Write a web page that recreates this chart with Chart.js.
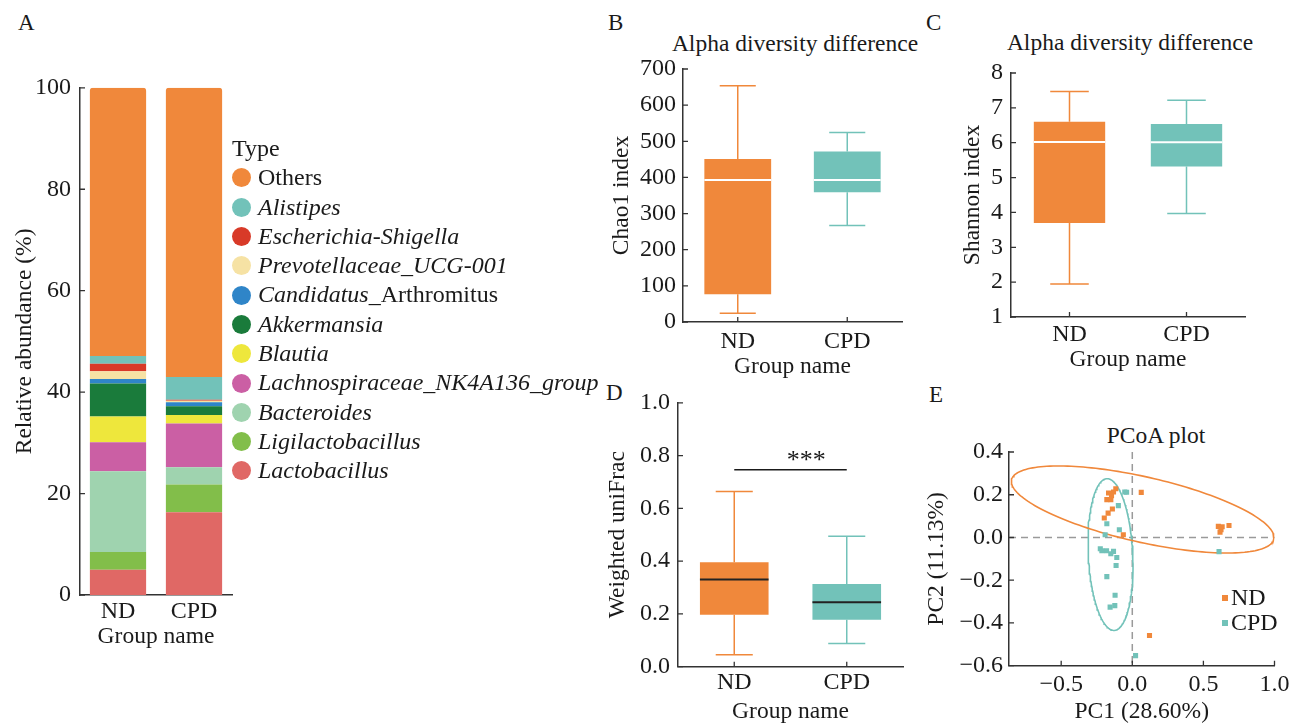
<!DOCTYPE html>
<html>
<head>
<meta charset="utf-8">
<script src="https://cdn.jsdelivr.net/npm/chart.js@4.4.1/dist/chart.umd.min.js"></script>
<style>
body{margin:0;background:#fff;overflow:hidden;}
#wrap{position:relative;width:1305px;height:725px;font-family:"Liberation Serif","Times New Roman",serif;color:#1a1a1a;}
canvas{position:absolute;}
.pl{position:absolute;font-size:23px;line-height:1.2;}
.ttl{position:absolute;font-size:23.5px;line-height:1.2;text-align:center;white-space:nowrap;}
#legA{position:absolute;left:232px;top:134px;font-size:24px;}
#legA div{height:29.3px;line-height:29.3px;white-space:nowrap;display:flex;align-items:center;}
#legA span.dot{display:inline-block;width:19px;height:19px;border-radius:50%;margin-right:7px;}
#legE{position:absolute;left:1222px;top:585px;font-size:24px;}
#legE div{height:25px;line-height:25px;display:flex;align-items:center;}
#legE span.sq{display:inline-block;width:6px;height:6px;margin-right:3px;}
</style>
</head>
<body>
<div id="wrap">
  <div class="pl" style="left:18px;top:9px">A</div>
  <div class="pl" style="left:608px;top:9px">B</div>
  <div class="pl" style="left:926px;top:9px">C</div>
  <div class="pl" style="left:606px;top:379px">D</div>
  <div class="pl" style="left:929px;top:381px">E</div>
  <div class="ttl" style="left:645px;top:29px;width:300px">Alpha diversity difference</div>
  <div class="ttl" style="left:980px;top:28px;width:300px">Alpha diversity difference</div>
  <div class="ttl" style="left:1056px;top:421px;width:200px">PCoA plot</div>
  <canvas id="cA" width="230" height="595" style="left:6px;top:65px"></canvas>
  <div id="legA"></div>
  <canvas id="cB" width="305" height="360" style="left:605px;top:25px"></canvas>
  <canvas id="cC" width="304" height="355" style="left:956px;top:25px"></canvas>
  <canvas id="cD" width="309" height="345" style="left:601px;top:381px"></canvas>
  <canvas id="cE" width="375" height="316" style="left:920px;top:410px"></canvas>
  <div id="legE"></div>
</div>
<script>
// ---- data ----
var groups = ['ND', 'CPD'];

// stacked from bottom to top
var genera = ['Lactobacillus', 'Ligilactobacillus', 'Bacteroides', 'Lachnospiraceae_NK4A136_group',
  'Blautia', 'Akkermansia', 'Candidatus_Arthromitus', 'Prevotellaceae_UCG-001',
  'Escherichia-Shigella', 'Alistipes', 'Others'];
var abundND  = [5.0, 3.5, 15.9, 5.7, 5.1, 6.5, 0.9, 1.5, 1.5, 1.5, 52.9];
var abundCPD = [16.3, 5.5, 3.4, 8.6, 1.7, 1.7, 0.8, 0.3, 0.2, 4.5, 57.0];
var genusColors = ['#E06865', '#82BE4A', '#9FD3AF', '#CB5FA4', '#EEE73C', '#1A7B3B',
  '#2F85C8', '#F6E2A4', '#D83A28', '#72C2B9', '#F0883B'];
var abundTicks = [0, 20, 40, 60, 80, 100];

// box stats: min, q1, median, q3, max
var chaoND  = [24, 77, 393, 451, 654];
var chaoCPD = [267, 359, 393, 472, 524];
var chaoTicks = [0, 100, 200, 300, 400, 500, 600, 700];

var shannonND  = [1.95, 3.70, 6.02, 6.60, 7.47];
var shannonCPD = [3.97, 5.32, 6.01, 6.54, 7.22];
var shannonTicks = [1, 2, 3, 4, 5, 6, 7, 8];

var unifracND  = [0.045, 0.197, 0.330, 0.396, 0.664];
var unifracCPD = [0.088, 0.178, 0.244, 0.313, 0.494];
var unifracTicks = [0, 0.2, 0.4, 0.6, 0.8, 1.0];
var sigY = 0.746;
var sigText = '***';

// PCoA points [PC1, PC2]
var pcoaND = [[-0.116, 0.228], [-0.132, 0.213], [-0.167, 0.208], [-0.146, 0.195], [-0.179, 0.177],
  [-0.151, 0.177], [-0.140, 0.133], [-0.170, 0.114], [-0.197, 0.091], [-0.063, 0.013],
  [0.063, 0.211], [0.121, -0.459], [0.605, 0.052], [0.624, 0.036], [0.617, 0.025],
  [0.632, 0.050], [0.680, 0.056]];
var pcoaCPD = [[-0.053, 0.213], [-0.040, 0.212], [-0.098, 0.149], [-0.179, 0.064], [-0.091, 0.036],
  [-0.191, 0.013], [-0.225, -0.053], [-0.214, -0.062], [-0.181, -0.062], [-0.151, -0.076],
  [-0.132, -0.065], [-0.109, -0.094], [-0.114, -0.131], [-0.179, -0.183], [-0.121, -0.270],
  [-0.123, -0.319], [-0.156, -0.326], [0.610, -0.066], [0.023, -0.553]];
// ellipse: centre x, centre y, then two conjugate half axes (x, y)
var ellND  = [0.073, 0.131, 0.922, -0.139, -0.050, -0.149];
var ellCPD = [-0.153, -0.080, -0.026, 0.355, 0.156, 0.005];
var pcoaXTicks = [-0.5, 0, 0.5, 1.0];
var pcoaYTicks = [-0.6, -0.4, -0.2, 0, 0.2, 0.4];

var ORANGE = '#F0883B', TEAL = '#72C2B9', AXIS = '#333';
var boxColors = [ORANGE, TEAL];
var TFONT = {size: 23.5, lineHeight: 1.17, weight: 'normal'};

Chart.defaults.font.family = '"Liberation Serif","Times New Roman",serif';
Chart.defaults.font.size = 24;
Chart.defaults.font.lineHeight = 1.15;
Chart.defaults.color = '#1a1a1a';
Chart.defaults.animation = false;
Chart.defaults.plugins.legend.display = false;
Chart.defaults.plugins.tooltip.enabled = false;

function fmt1(v) {
  var s = Math.abs(v) < 1e-9 ? '0.0' : Number(v).toFixed(1);
  return s.replace('-', '\u2212');
}
function setTicks(arr) {
  return function (s) { s.ticks = arr.map(function (v) { return {value: v}; }); };
}

// inward tick marks
function tickMarks(len, doX) {
  return {
    id: 'tickMarks',
    afterDraw: function (ch) {
      var c = ch.ctx, a = ch.chartArea, sy = ch.scales.y, sx = ch.scales.x;
      c.save();
      c.strokeStyle = AXIS; c.lineWidth = 1.3;
      c.beginPath();
      sy.ticks.forEach(function (t) {
        var p = sy.getPixelForValue(t.value);
        c.moveTo(a.left, p); c.lineTo(a.left + len, p);
      });
      if (doX) {
        sx.ticks.forEach(function (t, i) {
          var p = sx.getPixelForTick(i);
          c.moveTo(p, a.bottom); c.lineTo(p, a.bottom - len);
        });
      }
      c.stroke();
      c.restore();
    }
  };
}

// whiskers + median on top of floating bars
function boxPlugin(stats, medColor) {
  return {
    id: 'boxWhisk',
    afterDatasetsDraw: function (ch) {
      var meta = ch.getDatasetMeta(0), y = ch.scales.y, c = ch.ctx;
      stats.forEach(function (s, i) {
        var bar = meta.data[i], x = bar.x, w = bar.width, cw = w * 0.27;
        c.save();
        c.strokeStyle = boxColors[i]; c.lineWidth = 1.5;
        c.beginPath();
        c.moveTo(x, y.getPixelForValue(s[3])); c.lineTo(x, y.getPixelForValue(s[4]));
        c.moveTo(x, y.getPixelForValue(s[1])); c.lineTo(x, y.getPixelForValue(s[0]));
        c.moveTo(x - cw, y.getPixelForValue(s[4])); c.lineTo(x + cw, y.getPixelForValue(s[4]));
        c.moveTo(x - cw, y.getPixelForValue(s[0])); c.lineTo(x + cw, y.getPixelForValue(s[0]));
        c.stroke();
        c.strokeStyle = medColor; c.lineWidth = 2;
        c.beginPath();
        c.moveTo(x - w / 2, y.getPixelForValue(s[2])); c.lineTo(x + w / 2, y.getPixelForValue(s[2]));
        c.stroke();
        c.restore();
      });
    }
  };
}

// ---- A: stacked bars ----
var chartA = new Chart(document.getElementById('cA'), {
  type: 'bar',
  data: {
    labels: groups,
    datasets: genera.map(function (g, i) {
      return {
        label: g, data: [abundND[i], abundCPD[i]], backgroundColor: genusColors[i],
        barPercentage: 0.74, categoryPercentage: 1, borderWidth: 0,
        borderRadius: g === 'Others' ? 3 : 0
      };
    })
  },
  options: {
    responsive: false,
    layout: {padding: {top: 18, right: 4, left: 0, bottom: 0}},
    scales: {
      x: {
        stacked: true, grid: {display: false, drawTicks: false}, border: {color: AXIS, width: 1.5},
        ticks: {padding: 3},
        title: {display: true, text: 'Group name', font: TFONT, padding: {top: 0, bottom: 9}},
        afterFit: function (s) { s.height = 65; }
      },
      y: {
        stacked: true, min: 0, max: 100, grid: {display: false, drawTicks: false},
        border: {color: AXIS, width: 1.5},
        afterBuildTicks: setTicks(abundTicks), ticks: {padding: 9},
        title: {display: true, text: 'Relative abundance (%)', font: TFONT, padding: {top: 5, bottom: 0}},
        afterFit: function (s) { s.width = 74; }
      }
    }
  },
  plugins: [tickMarks(5, false)]
});

// legend for A, built from the chart's datasets (top of stack first)
(function () {
  var el = document.getElementById('legA');
  var html = '<div>Type</div>';
  chartA.data.datasets.slice().reverse().forEach(function (d) {
    var name = d.label, txt;
    if (name === 'Others') txt = name;
    else if (name.indexOf('Candidatus_') === 0) txt = '<i>Candidatus_</i>' + name.slice(11);
    else txt = '<i>' + name + '</i>';
    html += '<div><span class="dot" style="background:' + d.backgroundColor + '"></span>' + txt + '</div>';
  });
  el.innerHTML = html;
})();

// ---- B, C, D: box plots ----
function boxChart(id, nd, cpd, o) {
  var stats = [nd, cpd];
  var extra = o.extra ? [o.extra] : [];
  return new Chart(document.getElementById(id), {
    type: 'bar',
    data: {
      labels: groups,
      datasets: [{
        data: stats.map(function (s) { return [s[1], s[3]]; }),
        backgroundColor: boxColors, barPercentage: 0.61, categoryPercentage: 1, borderWidth: 0
      }]
    },
    options: {
      responsive: false,
      layout: {padding: {top: o.pt, right: o.pr, left: 0, bottom: 0}},
      scales: {
        x: {
          grid: {display: false, drawTicks: false}, border: {color: AXIS, width: 1.5},
          ticks: {padding: o.xpad},
          title: {display: true, text: 'Group name', font: TFONT, padding: {top: 0, bottom: o.pb}},
          afterFit: function (s) { s.height = o.xh; }
        },
        y: {
          min: o.ticks[0], max: o.ticks[o.ticks.length - 1],
          grid: {display: false, drawTicks: false}, border: {color: AXIS, width: 1.5},
          afterBuildTicks: setTicks(o.ticks),
          ticks: {padding: o.ypad, callback: o.fmt},
          title: {display: true, text: o.ytitle, font: TFONT, padding: {top: o.ytp, bottom: 0}},
          afterFit: function (s) { s.width = o.yw; }
        }
      }
    },
    plugins: [boxPlugin(stats, o.median), tickMarks(5, true)].concat(extra)
  });
}

boxChart('cB', chaoND, chaoCPD, {
  pt: 44, pr: 8, xh: 63, yw: 78,
  xpad: 6, pb: 4.5, ypad: 7, ytp: 3, ytitle: 'Chao1 index', ticks: chaoTicks,
  fmt: function (v) { return v; }, median: '#ffffff'
});

boxChart('cC', shannonND, shannonCPD, {
  pt: 48, pr: 15, xh: 63, yw: 55,
  xpad: 4, pb: 6, ypad: 8, ytp: 3, ytitle: 'Shannon index', ticks: shannonTicks,
  fmt: function (v) { return v; }, median: '#ffffff'
});

boxChart('cD', unifracND, unifracCPD, {
  pt: 15.7, pr: 7, xh: 59.3, yw: 77,
  xpad: 2.5, pb: 0, ypad: 8, ytp: 3, ytitle: 'Weighted uniFrac', ticks: unifracTicks,
  fmt: fmt1, median: '#222222',
  extra: {
    id: 'sig',
    afterDraw: function (ch) {
      var c = ch.ctx, sx = ch.scales.x, sy = ch.scales.y;
      var x0 = sx.getPixelForValue(0), x1 = sx.getPixelForValue(1), py = sy.getPixelForValue(sigY);
      c.save();
      c.strokeStyle = '#1a1a1a'; c.lineWidth = 1.5;
      c.beginPath(); c.moveTo(x0, py); c.lineTo(x1, py); c.stroke();
      c.fillStyle = '#1a1a1a';
      c.font = '26px "Liberation Serif", serif';
      c.textAlign = 'center'; c.textBaseline = 'alphabetic';
      c.fillText(sigText, x0 + (x1 - x0) * 0.64, py - 2);
      c.restore();
    }
  }
});

// ---- E: PCoA ----
function ellipsePoints(e) {
  var pts = [];
  for (var k = 0; k <= 180; k++) {
    var t = k / 180 * 2 * Math.PI;
    pts.push({x: e[0] + e[2] * Math.cos(t) + e[4] * Math.sin(t),
              y: e[1] + e[3] * Math.cos(t) + e[5] * Math.sin(t)});
  }
  return pts;
}
function toXY(arr) { return arr.map(function (p) { return {x: p[0], y: p[1]}; }); }

var chartE = new Chart(document.getElementById('cE'), {
  type: 'scatter',
  data: {
    datasets: [
      {label: 'ND', data: toXY(pcoaND), pointStyle: 'rect', pointRadius: 3.6,
        backgroundColor: ORANGE, borderWidth: 0, order: 0},
      {label: 'CPD', data: toXY(pcoaCPD), pointStyle: 'rect', pointRadius: 3.6,
        backgroundColor: TEAL, borderWidth: 0, order: 0},
      {label: 'ND ellipse', data: ellipsePoints(ellND), showLine: true, pointRadius: 0,
        borderColor: ORANGE, borderWidth: 1.6, fill: false, order: 1},
      {label: 'CPD ellipse', data: ellipsePoints(ellCPD), showLine: true, pointRadius: 0,
        borderColor: TEAL, borderWidth: 1.6, fill: false, order: 1}
    ]
  },
  options: {
    responsive: false,
    layout: {padding: {top: 42, right: 17, left: 0, bottom: 0}},
    scales: {
      x: {
        type: 'linear', min: -0.867, max: 1.0,
        grid: {display: false, drawTicks: false}, border: {color: AXIS, width: 1.5},
        afterBuildTicks: setTicks(pcoaXTicks), ticks: {padding: 5.5, callback: fmt1},
        title: {display: true, text: 'PC1 (28.60%)', font: TFONT, padding: {top: 0, bottom: 0}},
        afterFit: function (s) { s.height = 60.3; }
      },
      y: {
        type: 'linear', min: -0.6, max: 0.4,
        grid: {display: false, drawTicks: false}, border: {color: AXIS, width: 1.5},
        afterBuildTicks: setTicks(pcoaYTicks), ticks: {padding: 6, callback: fmt1},
        title: {display: true, text: 'PC2 (11.13%)', font: TFONT, padding: {top: 3, bottom: 0}},
        afterFit: function (s) { s.width = 89; }
      }
    }
  },
  plugins: [{
    id: 'zeroLines',
    beforeDatasetsDraw: function (ch) {
      var c = ch.ctx, a = ch.chartArea;
      var px = ch.scales.x.getPixelForValue(0), py = ch.scales.y.getPixelForValue(0);
      c.save();
      c.strokeStyle = '#9a9a9a'; c.lineWidth = 1.5; c.setLineDash([7, 5]);
      c.beginPath();
      c.moveTo(a.left, py); c.lineTo(a.right, py);
      c.moveTo(px, a.top); c.lineTo(px, a.bottom);
      c.stroke();
      c.restore();
    }
  }, tickMarks(5, true)]
});

// legend for E
(function () {
  var el = document.getElementById('legE'), html = '';
  chartE.data.datasets.slice(0, 2).forEach(function (d) {
    html += '<div><span class="sq" style="background:' + d.backgroundColor + '"></span>' + d.label + '</div>';
  });
  el.innerHTML = html;
})();
</script>
</body>
</html>
